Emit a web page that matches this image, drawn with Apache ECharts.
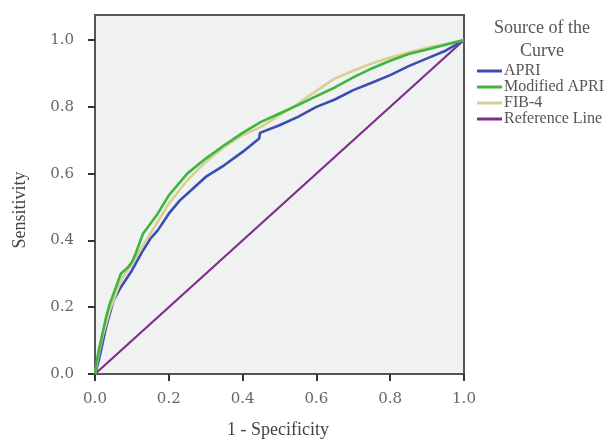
<!DOCTYPE html>
<html>
<head>
<meta charset="utf-8">
<script src="https://cdn.jsdelivr.net/npm/echarts@6/dist/echarts.min.js"></script>
<style>html,body{margin:0;padding:0;background:#fff}#c{width:606px;height:440px}</style>
</head>
<body>
<div id="c"></div>
<script>
const tickValues = [0, 0.2, 0.4, 0.6, 0.8, 1.0];
const apriX = [0, 0.005, 0.01, 0.02, 0.03, 0.04, 0.05, 0.07, 0.1, 0.13, 0.15, 0.17, 0.2, 0.23, 0.25, 0.3, 0.35, 0.4, 0.445, 0.447, 0.5, 0.55, 0.6, 0.65, 0.7, 0.75, 0.8, 0.85, 0.9, 0.95, 1.0];
const apriY = [0, 0.02, 0.04, 0.09, 0.14, 0.18, 0.22, 0.26, 0.31, 0.37, 0.405, 0.43, 0.48, 0.52, 0.54, 0.59, 0.625, 0.665, 0.705, 0.722, 0.745, 0.77, 0.8, 0.822, 0.85, 0.872, 0.895, 0.922, 0.945, 0.968, 1.0];
const modX = [0, 0.005, 0.01, 0.02, 0.03, 0.04, 0.05, 0.07, 0.09, 0.1, 0.11, 0.13, 0.15, 0.17, 0.2, 0.25, 0.3, 0.35, 0.4, 0.45, 0.5, 0.55, 0.6, 0.65, 0.7, 0.75, 0.8, 0.85, 0.9, 0.95, 1.0];
const modY = [0, 0.04, 0.07, 0.12, 0.17, 0.21, 0.24, 0.30, 0.32, 0.335, 0.36, 0.42, 0.45, 0.48, 0.535, 0.60, 0.645, 0.685, 0.722, 0.755, 0.78, 0.805, 0.832, 0.858, 0.888, 0.915, 0.938, 0.958, 0.972, 0.986, 1.0];
const fibX = [0, 0.005, 0.01, 0.02, 0.03, 0.04, 0.05, 0.07, 0.1, 0.15, 0.2, 0.25, 0.3, 0.35, 0.4, 0.45, 0.5, 0.55, 0.6, 0.65, 0.7, 0.75, 0.8, 0.85, 0.9, 0.95, 1.0];
const fibY = [0, 0.03, 0.06, 0.11, 0.15, 0.19, 0.22, 0.28, 0.33, 0.42, 0.51, 0.58, 0.635, 0.68, 0.715, 0.74, 0.775, 0.81, 0.848, 0.885, 0.908, 0.93, 0.948, 0.963, 0.977, 0.988, 1.0];
const refX = [0, 1];
const refY = [0, 1];

const zip = (xs, ys) => xs.map((x, i) => [x, ys[i]]);
const serif = 'Liberation Serif';
const axisCol = '#555';

const chart = echarts.init(document.getElementById('c'), null, {renderer: 'canvas'});
chart.setOption({
  animation: false,
  title: {
    text: 'Source of the\nCurve',
    left: 537, top: 12, textAlign: 'center',
    textStyle: {fontFamily: serif, fontSize: 18, fontWeight: 'normal', color: '#555', lineHeight: 23}
  },
  legend: {
    orient: 'vertical', left: 472, top: 58, itemGap: 0,
    itemWidth: 25, itemHeight: 3, icon: 'rect',
    textStyle: {fontFamily: serif, fontSize: 16, color: '#555', lineHeight: 15.7, padding: [0, 0, 0, -3]},
    data: ['APRI', 'Modified APRI', 'FIB-4', 'Reference Line']
  },
  grid: {
    left: 95, right: 142, top: 15, bottom: 66, show: true, containLabel: false,
    outerBoundsMode: 'none',
    backgroundColor: '#f0f1f1', borderColor: axisCol, borderWidth: 2
  },
  graphic: [{
    type: 'text', x: 20, y: 210, rotation: Math.PI / 2,
    style: {text: 'Sensitivity', fontFamily: serif, fontSize: 18, fill: '#444',
      align: 'center', verticalAlign: 'middle'}
  }, {
    type: 'text', x: 278, y: 430,
    style: {text: '1 - Specificity', fontFamily: serif, fontSize: 18, fill: '#444',
      align: 'center', verticalAlign: 'middle'}
  }],
  xAxis: {
    type: 'value', min: 0, max: 1, interval: 0.2,
    axisLine: {show: true, lineStyle: {color: axisCol, width: 2}},
    axisTick: {show: true, length: 7, lineStyle: {color: '#333', width: 2}},
    axisLabel: {fontFamily: 'DejaVu Serif', fontSize: 15, color: '#666', margin: 18,
      formatter: v => v.toFixed(1)},
    splitLine: {show: false}
  },
  yAxis: {
    type: 'value', min: 0, max: 1.075,
    axisLine: {show: true, lineStyle: {color: axisCol, width: 2}},
    axisTick: {show: true, length: 7, lineStyle: {color: '#333', width: 2}, customValues: tickValues},
    axisLabel: {fontFamily: 'DejaVu Serif', fontSize: 15, color: '#666', margin: 21,
      customValues: tickValues, formatter: v => v.toFixed(1)},
    splitLine: {show: false}
  },
  series: [
    {name: 'Reference Line', type: 'line', data: zip(refX, refY), showSymbol: false, symbol: 'none',
      lineStyle: {color: '#7e2d8c', width: 2.2}, itemStyle: {color: '#7e2d8c'}},
    {name: 'APRI', type: 'line', data: zip(apriX, apriY), showSymbol: false, symbol: 'none',
      lineStyle: {color: '#3b4db3', width: 2.6}, itemStyle: {color: '#3b4db3'}},
    {name: 'FIB-4', type: 'line', data: zip(fibX, fibY), showSymbol: false, symbol: 'none',
      lineStyle: {color: '#d5d094', width: 2.6}, itemStyle: {color: '#d5d094'}},
    {name: 'Modified APRI', type: 'line', data: zip(modX, modY), showSymbol: false, symbol: 'none',
      lineStyle: {color: '#3fb53f', width: 2.6}, itemStyle: {color: '#3fb53f'}}
  ]
});
</script>
</body>
</html>
